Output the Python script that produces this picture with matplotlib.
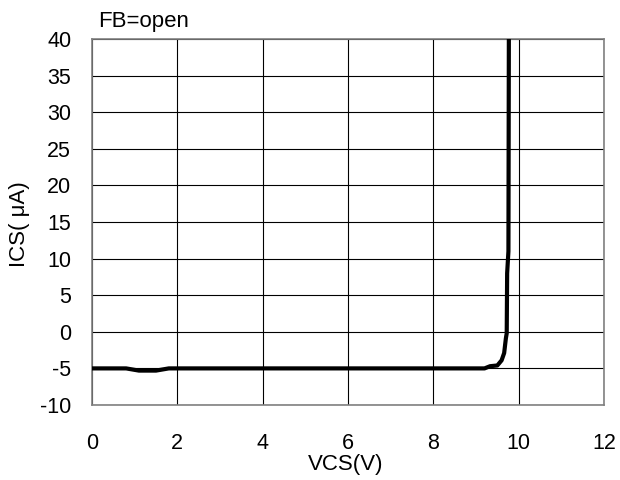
import matplotlib
matplotlib.use("Agg")
import matplotlib.pyplot as plt

# I-V curve of the CS pin with FB left open
vcs = [0, 0.8, 1.1, 1.5, 1.8, 9.2, 9.33, 9.5, 9.6, 9.66, 9.7, 9.72, 9.73, 9.76, 9.77]
ics = [-5, -5, -5.3, -5.3, -5, -5, -4.7, -4.6, -3.9, -2.9, -0.9, -0.2, 8, 11, 40]

x_ticks = [0, 2, 4, 6, 8, 10, 12]
y_ticks = [-10, -5, 0, 5, 10, 15, 20, 25, 30, 35, 40]

plt.rcParams["font.family"] = ["Liberation Sans", "DejaVu Sans"]
TICK_FS = 15.5
LABEL_FS = 16

fig = plt.figure(figsize=(6.2, 4.8), dpi=100)
ax = fig.add_axes([92 / 620, 1 - 405 / 480, 512 / 620, 366 / 480])

ax.plot(vcs, ics, color="black", lw=3, solid_joinstyle="round", zorder=3)

ax.set_xlim(0, 12)
ax.set_ylim(-10, 40)
ax.set_xticks(x_ticks)
ax.set_yticks(y_ticks)
ax.set_yticklabels([f"{v}" for v in y_ticks])
ax.grid(True, color="black", lw=0.8)
ax.tick_params(length=0, labelsize=TICK_FS)
ax.tick_params(axis="x", pad=20)
ax.tick_params(axis="y", pad=15)
for s in ax.spines.values():
    s.set_color("#808080")
    s.set_linewidth(1.2)

fig.text(346 / 620, 1 - 470 / 480, "VCS(V)", fontsize=LABEL_FS, ha="center", va="baseline")
fig.text(20 / 620, 1 - 224 / 480, "ICS( μA)", fontsize=LABEL_FS, ha="center", va="center",
         rotation=90)
fig.text(98 / 620, 1 - 27 / 480, "FB=open", fontsize=LABEL_FS, ha="left", va="baseline")

fig.savefig("out.png", dpi=100)
